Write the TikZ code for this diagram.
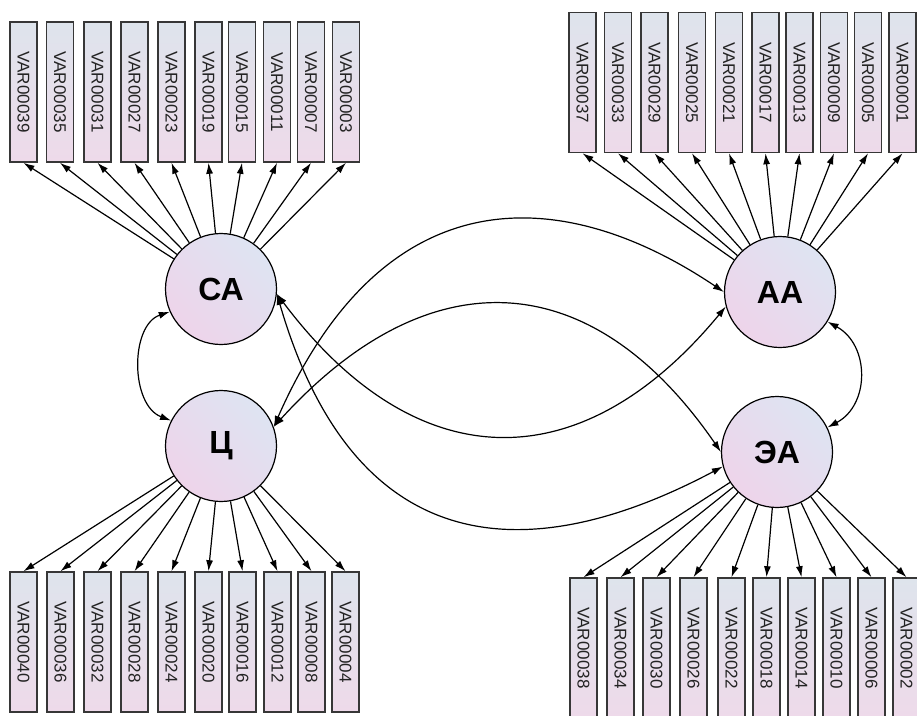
\documentclass[tikz,border=0pt]{standalone}
\usepackage{fontspec}
\setmainfont{Liberation Sans}
\usetikzlibrary{arrows.meta}
\definecolor{boxtop}{RGB}{222,228,236}
\definecolor{boxbot}{RGB}{238,218,234}
\definecolor{circblue}{RGB}{222,228,242}
\definecolor{circpink}{RGB}{238,212,234}
\definecolor{boxline}{RGB}{55,55,55}
\definecolor{vartext}{RGB}{35,35,35}
\begin{document}
\begin{tikzpicture}[x=1pt,y=-1pt,
  varbox/.style={draw=boxline, line width=1.6pt, minimum width=27pt, minimum height=140pt,
    inner sep=0pt, top color=boxtop, bottom color=boxbot, text=vartext,
    font=\fontsize{17}{17}\selectfont},
  factor/.style={circle, draw=black, line width=1.2pt, minimum size=111pt, inner sep=0pt,
    top color=circblue, bottom color=circpink, shading angle=-45,
    font=\fontsize{32}{32}\selectfont\bfseries},
  arr/.style={line width=1.2pt, -{Latex[length=11pt,width=7pt]}},
  cov/.style={line width=1.2pt, {Latex[length=11pt,width=7pt]}-{Latex[length=11pt,width=7pt]}}]
\fill[white] (0,0) rectangle (917,715);
\clip (0,0) rectangle (917,715);
\path[use as bounding box] (0,0) rectangle (917,715);

% factors
\node[factor] (SA) at (221,289) {СА};
\node[factor] (TS) at (221,446) {Ц};
\node[factor] (AA) at (780,292) {АА};
\node[factor] (EA) at (777,452) {ЭА};

% top-left boxes
\foreach \x/\l [count=\i] in {23.5/39,60/35,97.5/31,134.5/27,171.5/23,208.5/19,242/15,277/11,311/07,346/03}
  \node[varbox] (tl\i) at (\x,92) {\rotatebox{-90}{VAR000\l}};
% top-right boxes
\foreach \x/\l [count=\i] in {582.5/37,618/33,654.5/29,692/25,729/21,765.5/17,799.5/13,834/09,868/05,902.5/01}
  \node[varbox] (tr\i) at (\x,82.5) {\rotatebox{-90}{VAR000\l}};
% bottom-left boxes
\foreach \x/\l [count=\i] in {23.5/40,60.5/36,97.5/32,134.5/28,171.5/24,208.5/20,242.5/16,277.5/12,311.5/08,345.5/04}
  \node[varbox] (bl\i) at (\x,642) {\rotatebox{-90}{VAR000\l}};
% bottom-right boxes
\foreach \x/\l [count=\i] in {583.5/38,620.5/34,656.5/30,693.5/26,731.5/22,766.5/18,801.5/14,836.5/10,871.5/06,906.5/02}
  \node[varbox] (br\i) at (\x,648) {\rotatebox{-90}{VAR000\l}};

% loadings
\foreach \i in {1,...,10} {
  \draw[arr] (SA) -- (tl\i.south);
  \draw[arr] (AA) -- (tr\i.south);
  \draw[arr] (TS) -- (bl\i.north);
  \draw[arr] (EA) -- (br\i.north);
}

% covariances
\draw[cov] (SA.204) .. controls (130,325) and (130,405) .. (TS.153);
\draw[cov] (AA.-32) .. controls (870,345) and (870,405) .. (EA.26);
\draw[cov] (TS.20) .. controls (386,172) and (565,185) .. (AA.180);
\draw[cov] (TS.20) .. controls (428,257) and (591,263) .. (EA.180);
\draw[cov] (SA.-5) .. controls (415,478) and (580,483) .. (AA.195);
\draw[cov] (SA.-5) .. controls (355,563) and (530,569) .. (EA.195);
\end{tikzpicture}
\end{document}
